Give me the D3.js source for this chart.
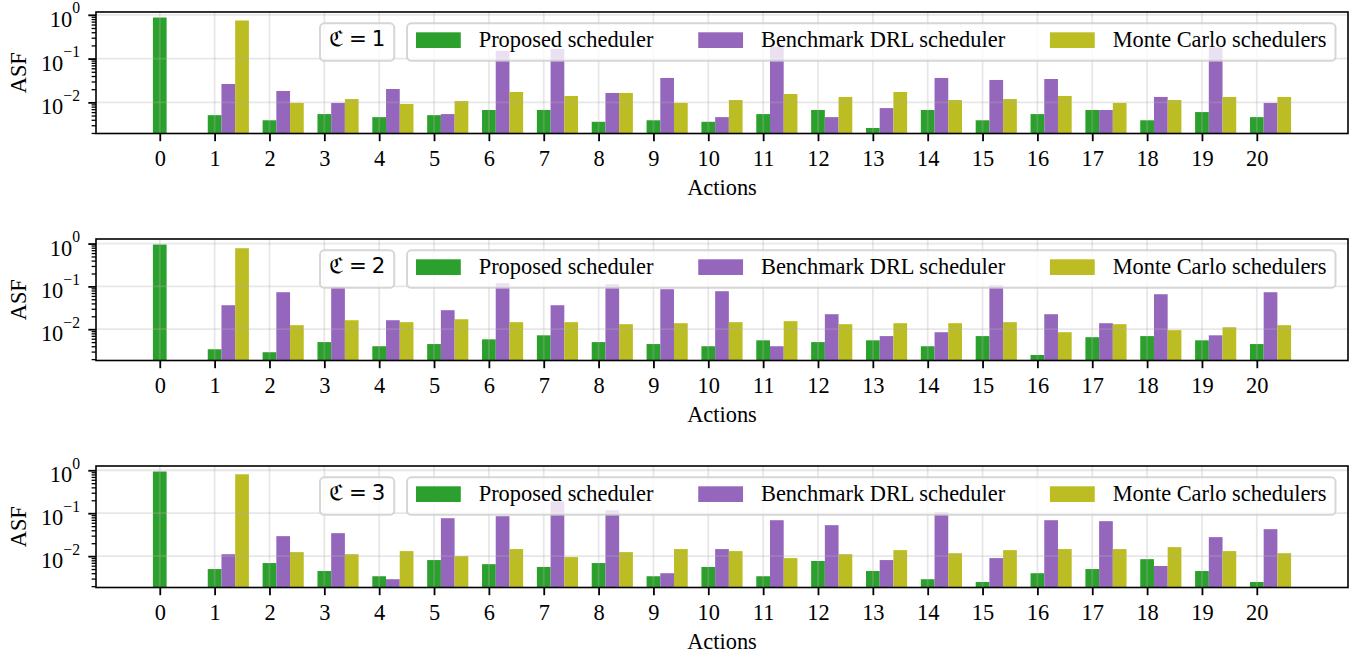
<!DOCTYPE html>
<html>
<head>
<meta charset="utf-8">
<script src="https://cdn.jsdelivr.net/npm/d3@7"></script>
<style>
  html, body { margin: 0; padding: 0; background: #fff; }
  svg { display: block; }
  .serif { font-family: "Liberation Serif", "Times New Roman", serif; }
</style>
</head>
<body>
<svg id="chart" width="1367" height="656"></svg>
<script>
// ---------------- data ----------------
const actions = [0,1,2,3,4,5,6,7,8,9,10,11,12,13,14,15,16,17,18,19,20];
const seriesNames = ["Proposed scheduler", "Benchmark DRL scheduler", "Monte Carlo schedulers"];
const seriesColors = ["#2ca02c", "#9467bd", "#bcbd22"];
const panelLabels = ["1", "2", "3"];
const yTickExponents = [-2, -1, 0];

const proposed1  = [0.867, 0.0051, 0.0039, 0.0054, 0.0046, 0.0051, 0.0067, 0.0067, 0.0036, 0.0039, 0.0036, 0.0054, 0.0067, 0.0026, 0.0067, 0.0039, 0.0054, 0.0067, 0.0039, 0.0060, 0.0046];
const benchmark1 = [0, 0.0263, 0.0182, 0.0097, 0.0202, 0.0054, 0.150, 0.166, 0.0164, 0.0361, 0.0046, 0.188, 0.0046, 0.0074, 0.0361, 0.0325, 0.0342, 0.0067, 0.0133, 0.182, 0.0097];
const monte1     = [0, 0.741, 0.0097, 0.0119, 0.0092, 0.0107, 0.0173, 0.0140, 0.0164, 0.0097, 0.0113, 0.0155, 0.0133, 0.0173, 0.0113, 0.0119, 0.0140, 0.0097, 0.0113, 0.0133, 0.0133];

const proposed2  = [0.950, 0.0034, 0.0029, 0.0050, 0.0040, 0.0045, 0.0058, 0.0072, 0.0050, 0.0045, 0.0040, 0.0055, 0.0050, 0.0055, 0.0040, 0.0069, 0.0025, 0.0065, 0.0069, 0.0055, 0.0045];
const benchmark2 = [0, 0.0363, 0.0731, 0.097, 0.0162, 0.0278, 0.119, 0.0363, 0.112, 0.0859, 0.0771, 0.0040, 0.0224, 0.0069, 0.0085, 0.106, 0.0224, 0.0138, 0.0656, 0.0072, 0.0731];
const monte2     = [0, 0.778, 0.0124, 0.0162, 0.0146, 0.0171, 0.0146, 0.0146, 0.0131, 0.0138, 0.0146, 0.0154, 0.0131, 0.0138, 0.0138, 0.0146, 0.0085, 0.0131, 0.0095, 0.0111, 0.0124];

const proposed3  = [0.935, 0.0050, 0.0069, 0.0045, 0.0034, 0.0081, 0.0065, 0.0056, 0.0069, 0.0034, 0.0056, 0.0034, 0.0077, 0.0045, 0.0029, 0.0025, 0.0040, 0.0050, 0.0085, 0.0045, 0.0025];
const benchmark3 = [0, 0.0111, 0.0292, 0.0343, 0.0029, 0.0765, 0.0851, 0.190, 0.117, 0.0040, 0.0146, 0.0687, 0.0526, 0.0081, 0.1055, 0.0090, 0.0687, 0.0652, 0.0059, 0.0277, 0.0425];
const monte3     = [0, 0.807, 0.0124, 0.0111, 0.0131, 0.0100, 0.0146, 0.0095, 0.0124, 0.0146, 0.0131, 0.0090, 0.0111, 0.0138, 0.0117, 0.0138, 0.0146, 0.0146, 0.0162, 0.0131, 0.0117];

const panels = [
  [proposed1, benchmark1, monte1],
  [proposed2, benchmark2, monte2],
  [proposed3, benchmark3, monte3]
];

// ---------------- layout ----------------
const svg = d3.select("#chart");
const FS = 22.4;
const left = 96, right = 1348;
const panelTop0 = 12, panelPitch = 227, panelH = 121.5;
const barW = 0.25;
const offsets = [0, 0.25, 0.5];

// x domain with 5% margin (matplotlib style)
const xLo = d3.min(actions) + offsets[0] - barW / 2;
const xHi = d3.max(actions) + offsets[2] + barW / 2;
const xm = (xHi - xLo) * 0.05;
const x = d3.scaleLinear().domain([xLo - xm, xHi + xm]).range([left, right]);

panels.forEach((series, pi) => {
  const top = panelTop0 + pi * panelPitch;
  const bottom = top + panelH;
  const all = series.flat().filter(v => v > 0);
  const lmin = Math.log10(d3.min(all)), lmax = Math.log10(d3.max(all));
  const r = lmax - lmin;
  const y = d3.scaleLog().domain([Math.pow(10, lmin - 0.05 * r), Math.pow(10, lmax + 0.05 * r)]).range([bottom, top]);

  const g = svg.append("g");
  const clipId = "clip" + pi;
  svg.append("defs").append("clipPath").attr("id", clipId)
    .append("rect").attr("x", left).attr("y", top).attr("width", right - left).attr("height", panelH);

  // bars
  const barG = g.append("g").attr("clip-path", `url(#${clipId})`);
  series.forEach((vals, si) => {
    barG.selectAll(null).data(actions.map((a, i) => ({a, v: vals[i]})).filter(d => d.v > 0))
      .enter().append("rect")
      .attr("x", d => x(d.a + offsets[si] - barW / 2))
      .attr("width", d => x(d.a + offsets[si] + barW / 2) - x(d.a + offsets[si] - barW / 2))
      .attr("y", d => y(d.v))
      .attr("height", d => bottom - y(d.v))
      .attr("fill", seriesColors[si]);
  });

  // grid (drawn above bars)
  const gridG = g.append("g").attr("clip-path", `url(#${clipId})`)
    .attr("stroke", "#b0b0b0").attr("stroke-opacity", 0.3).attr("stroke-width", 1.8);
  actions.forEach(a => gridG.append("line").attr("x1", x(a)).attr("x2", x(a)).attr("y1", top).attr("y2", bottom));
  yTickExponents.forEach(e => gridG.append("line").attr("x1", left).attr("x2", right).attr("y1", y(Math.pow(10, e))).attr("y2", y(Math.pow(10, e))));

  // x axis
  const xAxis = g.append("g").attr("transform", `translate(0,${bottom})`)
    .call(d3.axisBottom(x).tickValues(actions).tickFormat(d3.format("d")).tickSize(7.7).tickSizeOuter(0));
  xAxis.select(".domain").remove();
  xAxis.selectAll(".tick line").attr("stroke", "#000").attr("stroke-width", 1.8);
  xAxis.selectAll(".tick text").attr("class", "serif").attr("font-size", FS)
    .attr("y", 32).attr("dy", 0).attr("fill", "#000");

  // y minor ticks
  const minors = [];
  const [d0, d1] = y.domain();
  for (let e = Math.floor(Math.log10(d0)); e <= Math.ceil(Math.log10(d1)); e++) {
    for (let m = 2; m <= 9; m++) { const v = m * Math.pow(10, e); if (v >= d0 && v <= d1) minors.push(v); }
  }
  const yMinor = g.append("g").attr("transform", `translate(${left},0)`)
    .call(d3.axisLeft(y).tickValues(minors).tickFormat("").tickSize(4.4).tickSizeOuter(0));
  yMinor.select(".domain").remove();
  yMinor.selectAll(".tick line").attr("stroke", "#000").attr("stroke-width", 1.3);

  // y major ticks
  const yMajor = g.append("g").attr("transform", `translate(${left},0)`)
    .call(d3.axisLeft(y).tickValues(yTickExponents.map(e => Math.pow(10, e))).tickFormat("").tickSize(7.7).tickSizeOuter(0));
  yMajor.select(".domain").remove();
  yMajor.selectAll(".tick line").attr("stroke", "#000").attr("stroke-width", 1.8);
  yTickExponents.forEach(e => {
    const ty = y(Math.pow(10, e));
    const t = g.append("text").attr("class", "serif").attr("text-anchor", "end")
      .attr("x", 80).attr("y", ty + 12).attr("font-size", FS).attr("fill", "#000");
    t.append("tspan").text("10");
    t.append("tspan").attr("dy", -13.5).attr("font-size", FS * 0.7).text(e < 0 ? "\u2212" + Math.abs(e) : String(e));
  });

  // spines
  g.append("rect").attr("x", left).attr("y", top).attr("width", right - left).attr("height", panelH)
    .attr("fill", "none").attr("stroke", "#000").attr("stroke-width", 1.6);

  // labels
  g.append("text").attr("class", "serif").attr("font-size", FS).attr("text-anchor", "middle")
    .attr("x", (left + right) / 2).attr("y", bottom + 61.5).text("Actions");
  g.append("text").attr("class", "serif").attr("font-size", FS).attr("text-anchor", "middle")
    .attr("transform", `translate(26,${(top + bottom) / 2}) rotate(-90)`).text("ASF");

  // legend 2 (series), anchored upper right
  const pad = 0.4 * FS, hl = 2.0 * FS, htp = 0.8 * FS, cs = 2.0 * FS, hh = 0.7 * FS;
  const boxTop = top + 11.3, boxH = 37.5;
  const lg = g.append("g");
  const frame2 = lg.append("rect");
  const texts = seriesNames.map(n => lg.append("text").attr("class", "serif").attr("font-size", FS).text(n));
  const widths = texts.map(t => t.node().getComputedTextLength());
  const total = pad * 2 + seriesNames.length * (hl + htp) + d3.sum(widths) + cs * (seriesNames.length - 1);
  const boxRight = right - 12.5;
  const boxLeft = boxRight - total;
  frame2.attr("x", boxLeft).attr("y", boxTop).attr("width", total).attr("height", boxH)
    .attr("rx", 4.4).attr("fill", "#fff").attr("fill-opacity", 0.8)
    .attr("stroke", "#cccccc").attr("stroke-opacity", 0.8).attr("stroke-width", 2);
  let cx = boxLeft + pad;
  seriesNames.forEach((n, i) => {
    lg.append("rect").attr("x", cx).attr("y", boxTop + 9).attr("width", hl).attr("height", hh).attr("fill", seriesColors[i]);
    cx += hl + htp;
    texts[i].attr("x", cx).attr("y", boxTop + 23.5);
    cx += widths[i] + cs;
  });

  // legend 1 (panel label)
  const lg1 = g.append("g");
  const fr1 = lg1.append("rect");
  const t1 = lg1.append("text").attr("font-family", "'DejaVu Sans', sans-serif").attr("font-size", FS * 0.95)
    .attr("x", 320 + pad).attr("y", boxTop + 22.5);
  t1.append("tspan").text("\u212D");
  t1.append("tspan").attr("dx", 5).text("=");
  t1.append("tspan").attr("dx", 5).text(panelLabels[pi]);
  const w1 = t1.node().getComputedTextLength() + 10;
  fr1.attr("x", 320).attr("y", boxTop).attr("width", w1 + 2 * pad).attr("height", boxH)
    .attr("rx", 4.4).attr("fill", "#fff").attr("fill-opacity", 0.8)
    .attr("stroke", "#cccccc").attr("stroke-opacity", 0.8).attr("stroke-width", 2);
});
</script>
</body>
</html>
